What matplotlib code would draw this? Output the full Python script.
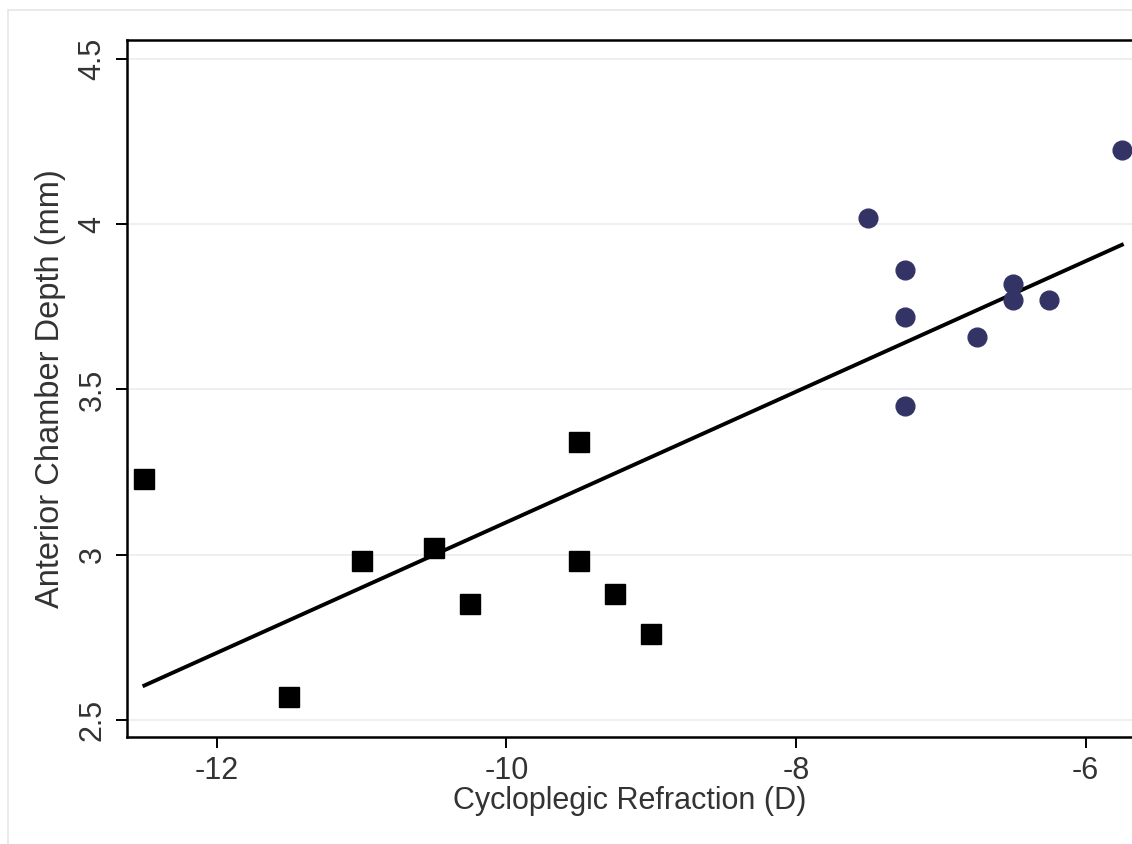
import numpy as np
import matplotlib
matplotlib.use("Agg")
import matplotlib.pyplot as plt
from matplotlib.patches import Rectangle

# squares (black) - high myopia group
sq_x = [-12.5, -11.5, -11.0, -10.5, -10.25, -9.5, -9.5, -9.25, -9.0]
sq_y = [3.23, 2.57, 2.98, 3.02, 2.85, 3.34, 2.98, 2.88, 2.76]

# circles (navy) - lower myopia group
ci_x = [-7.5, -7.25, -7.25, -7.25, -6.75, -6.5, -6.5, -6.25, -5.75]
ci_y = [4.02, 3.86, 3.72, 3.45, 3.66, 3.82, 3.77, 3.77, 4.225]

x_ticks = [-12, -10, -8, -6]
y_ticks = [2.5, 3, 3.5, 4, 4.5]
y_tick_labels = ["2.5", "3", "3.5", "4", "4.5"]

plt.rcParams['font.family'] = ['Liberation Sans Narrow', 'Liberation Sans', 'DejaVu Sans']
plt.rcParams['axes.unicode_minus'] = False
txt_col = "#333333"

fig = plt.figure(figsize=(11.32, 8.44), dpi=100)
fig.patches.append(Rectangle((8 / 1132, -0.1), 1.0, 1.1 - 10 / 844, transform=fig.transFigure,
                             fill=False, edgecolor="#e6e6e6", linewidth=1.2))
ax = fig.add_axes([127 / 1132, 1 - 737 / 844, 1 - 127 / 1132, (737 - 40) / 844])

all_x = np.array(sq_x + ci_x)
all_y = np.array(sq_y + ci_y)
slope, intercept = np.polyfit(all_x, all_y, 1)
fx = np.array([min(all_x), max(all_x)])
ax.plot(fx, slope * fx + intercept, color="black", linewidth=2.8, zorder=3)

ax.plot(sq_x, sq_y, linestyle="none", marker="s", markersize=14, color="black", zorder=4)
ax.plot(ci_x, ci_y, linestyle="none", marker="o", markersize=13.5, color="#333366", zorder=4)

ax.set_xlim(-12.62, -5.68)
ax.set_ylim(2.449, 4.557)
ax.set_xticks(x_ticks)
ax.set_yticks(y_ticks)
ax.set_yticklabels(y_tick_labels, rotation=90, va="center")
ax.grid(axis="y", color="#ececec", linewidth=1.2)
ax.set_axisbelow(True)

for s in ["left", "top", "bottom"]:
    ax.spines[s].set_linewidth(1.8)
ax.spines["right"].set_visible(False)
ax.tick_params(length=8, width=1.4, labelsize=22, labelcolor=txt_col, pad=6)

ax.set_xlabel("Cycloplegic Refraction (D)", fontsize=22, color=txt_col, labelpad=0)
ax.set_ylabel("Anterior Chamber Depth (mm)", fontsize=23.5, color=txt_col, labelpad=8)

fig.savefig("out.png", dpi=100)
